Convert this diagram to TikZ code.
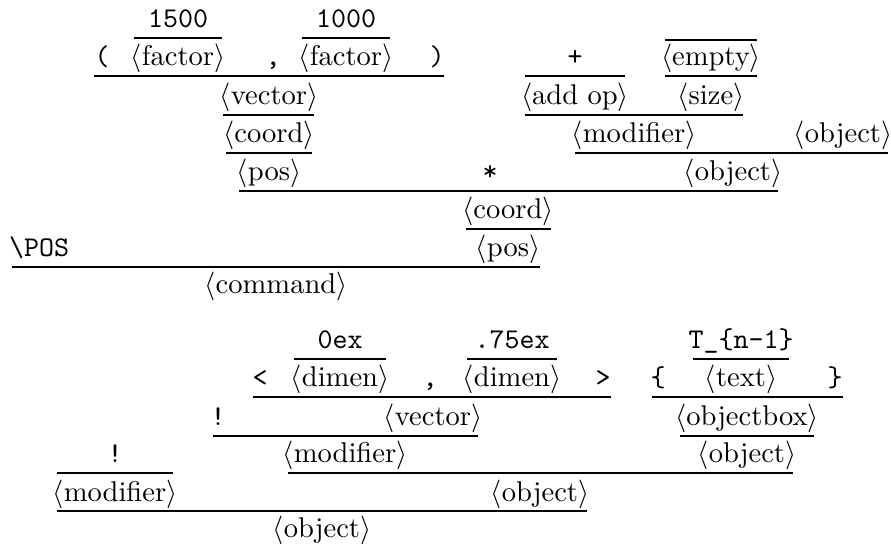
\documentclass[tikz,border=0pt]{standalone}
\newcommand{\nonterm}[1]{$\langle$#1$\rangle$}
\begin{document}
\begin{tikzpicture}[x=0.35pt, y=-0.35pt]
    % Define styles
    \tikzset{
        sym/.style={
            anchor=base,
            inner sep=0pt
        },
        term/.style={
            sym,
            font=\ttfamily
        },
        rule/.style={
            line width=0.4pt
        }
    }
    \useasboundingbox (0,0) rectangle (891,544);

    % Upper tree: the \POS command
    \node[term] (val1500) at (178,28) {1500};
    \node[term] (val1000) at (346,28) {1000};

    \node[term] (lpar) at (102,66) {(};
    \node[sym] (factorA) at (178,66) {\nonterm{factor}};
    \node[term] (commaA) at (273,66) {,};
    \node[sym] (factorB) at (346,66) {\nonterm{factor}};
    \node[term] (rpar) at (437,66) {)};
    \node[term] (plus) at (575,66) {+};
    \node[sym] (empty) at (711,66) {\nonterm{empty}};

    \node[sym] (vectorA) at (269,105) {\nonterm{vector}};
    \node[sym] (addop) at (575,105) {\nonterm{add op}};
    \node[sym] (size) at (711,105) {\nonterm{size}};

    \node[sym] (coordA) at (269,143) {\nonterm{coord}};
    \node[sym] (modifierA) at (634,143) {\nonterm{modifier}};
    \node[sym] (objectA) at (843,143) {\nonterm{object}};

    \node[sym] (posA) at (269,181) {\nonterm{pos}};
    \node[term] (star) at (490,181) {*};
    \node[sym] (objectB) at (733,181) {\nonterm{object}};

    \node[sym] (coordB) at (508,219) {\nonterm{coord}};

    \node[term] (POS) at (39,257) {\textbackslash POS};
    \node[sym] (posB) at (508,257) {\nonterm{pos}};

    \node[sym] (command) at (276,294) {\nonterm{command}};

    % Lower tree: the object
    \node[term] (val0ex) at (340,349) {0ex};
    \node[term] (val75ex) at (512,349) {.75ex};
    \node[term] (valT) at (741,349) {T\_\{n-1\}};

    \node[term] (lt) at (260,387) {<};
    \node[sym] (dimenA) at (340,387) {\nonterm{dimen}};
    \node[term] (commaB) at (430,387) {,};
    \node[sym] (dimenB) at (512,387) {\nonterm{dimen}};
    \node[term] (gt) at (603,387) {>};
    \node[term] (lbrace) at (658,387) {\{};
    \node[sym] (text) at (741,387) {\nonterm{text}};
    \node[term] (rbrace) at (835,387) {\}};

    \node[term] (bangA) at (218,426) {!};
    \node[sym] (vectorB) at (433,426) {\nonterm{vector}};
    \node[sym] (objectbox) at (747,426) {\nonterm{objectbox}};

    \node[term] (bangB) at (115,463) {!};
    \node[sym] (modifierB) at (345,463) {\nonterm{modifier}};
    \node[sym] (objectC) at (747,463) {\nonterm{object}};

    \node[sym] (modifierC) at (115,501) {\nonterm{modifier}};
    \node[sym] (objectD) at (540,501) {\nonterm{object}};

    \node[sym] (objectE) at (322,537) {\nonterm{object}};

    % Rules (left end / right end / height)
    \foreach \xa/\xb/\y in {134/222/38, 302/390/38, 665/757/40,
            94/444/76, 525/625/76, 665/757/76,
            223/314/115, 525/743/115, 226/312/153, 575/888/153,
            239/778/191, 466/551/229, 12/540/267,
            294/386/359, 467/557/359, 693/789/359,
            253/611/397, 652/843/397, 213/478/436, 680/814/436,
            57/173/473, 288/793/473, 57/587/511}
        \draw[rule] (\xa,\y) -- (\xb,\y);

\end{tikzpicture}
\end{document}
